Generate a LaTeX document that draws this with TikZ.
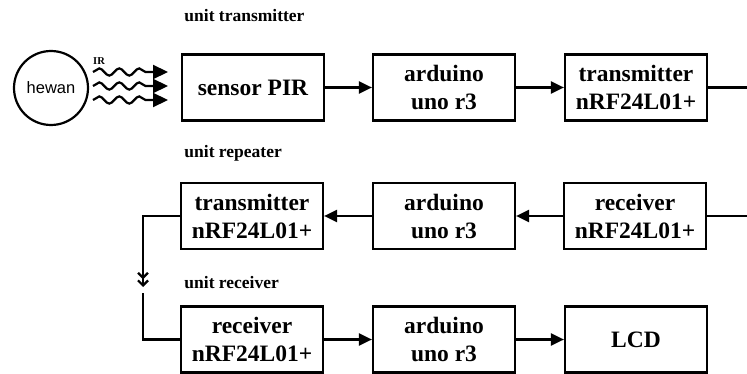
\documentclass[tikz,border=0pt]{standalone}
\usepackage{fontspec}
\setmainfont{Liberation Serif}
\newfontfamily\hewanfont{Liberation Sans}
\usetikzlibrary{arrows.meta,decorations.pathmorphing}

\begin{document}
\begin{tikzpicture}[x=1pt,y=-1pt,line width=2.2pt,
    blok/.style={draw,minimum width=142pt,minimum height=66pt,inner sep=0pt,
      align=center,font=\fontsize{23.5}{28}\selectfont\bfseries},
    unitlabel/.style={anchor=west,font=\fontsize{17.5}{20}\selectfont\bfseries},
    panah/.style={-{Triangle[length=13pt,width=12pt]}},
    gelombang/.style={-{Triangle[length=15pt,width=14pt]},decorate,
      decoration={snake,amplitude=3.6pt,segment length=20pt,post length=15pt}}]

      \useasboundingbox (0,0) rectangle (747,374);

      % Labels
      \node[unitlabel] (lblTx) at (180,16) {unit transmitter};
      \node[unitlabel] (lblRep) at (180,153) {unit repeater};
      \node[unitlabel] (lblRx) at (180,283) {unit receiver};
      \node[font=\fontsize{10.5}{12}\selectfont\bfseries] (ir) at (99,61) {IR};

      % Source
      \node[draw,circle,minimum size=74pt,inner sep=0pt,font=\hewanfont\fontsize{16.5}{18}\selectfont] (hewan) at (51,88) {hewan};

      % Unit transmitter
      \node[blok] (pir) at (253,87.5) {sensor PIR};
      \node[blok] (ardA) at (444,87.5) {arduino\\uno r3};
      \node[blok] (txA) at (636,87.5) {transmitter\\nRF24L01+};

      % Unit repeater
      \node[blok] (txB) at (252,216) {transmitter\\nRF24L01+};
      \node[blok] (ardB) at (444,216) {arduino\\uno r3};
      \node[blok] (rxB) at (635,216) {receiver\\nRF24L01+};

      % Unit receiver
      \node[blok] (rxC) at (252,339.5) {receiver\\nRF24L01+};
      \node[blok] (ardC) at (444,339.5) {arduino\\uno r3};
      \node[blok] (lcd) at (636,339.5) {LCD};

      % Wireless links
      \coordinate (keluarA) at (747,87.5);
      \coordinate (masukB) at (747,216);
      \coordinate (turunA) at (143,287);
      \coordinate (turunB) at (143,293);

      % IR waves
      \draw[gelombang] (93,72) -- (168,72);
      \draw[gelombang] (93,86) -- (168,86);
      \draw[gelombang] (93,100) -- (168,100);

      % Connections
      \draw[panah] (pir) -- (ardA);
      \draw[panah] (ardA) -- (txA);
      \draw (txA) -- (keluarA);

      \draw (masukB) -- (rxB);
      \draw[panah] (rxB) -- (ardB);
      \draw[panah] (ardB) -- (txB);
      \draw[-{Straight Barb[length=5pt,width=10pt]Straight Barb[length=5pt,width=10pt]}] (txB.west) -| (turunA);
      \draw (turunB) |- (rxC.west);

      \draw[panah] (rxC) -- (ardC);
      \draw[panah] (ardC) -- (lcd);

    \end{tikzpicture}
\end{document}
